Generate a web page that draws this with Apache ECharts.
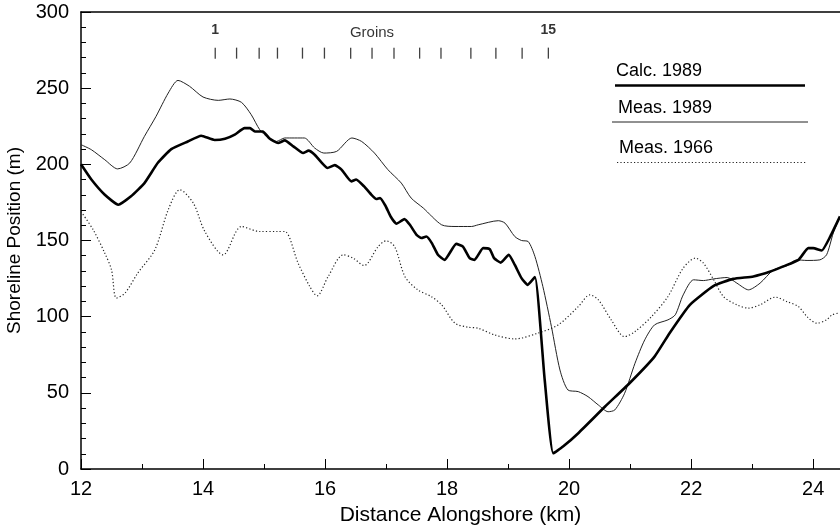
<!DOCTYPE html>
<html>
<head>
<meta charset="utf-8">
<script src="https://cdn.jsdelivr.net/npm/echarts@6/dist/echarts.min.js"></script>
<style>
html,body{margin:0;padding:0;background:#fff;}
#chart{width:840px;height:528px;}
</style>
</head>
<body>
<div id="chart"></div>
<script>
// ---- Data ----
var xTicks = [12, 14, 16, 18, 20, 22, 24];
var yTicks = [0, 50, 100, 150, 200, 250, 300];

var calc1989 = [[12.0,200],[12.17,190],[12.39,180],[12.61,173.5],[12.82,179],[13.04,187.7],[13.26,201],[13.48,210],[13.75,215],[13.97,218.8],[14.19,216],[14.36,216.8],[14.52,219.5],[14.68,223.8],[14.77,223.8],[14.85,221.6],[14.98,221.6],[15.09,217],[15.23,214],[15.34,215.7],[15.48,211.8],[15.64,207.4],[15.73,209],[15.83,206.3],[16.04,197.6],[16.16,199.5],[16.27,196.5],[16.43,188.8],[16.51,190],[16.64,185.5],[16.76,180],[16.84,177.2],[16.90,177.9],[16.99,172.8],[17.08,165.4],[17.17,161],[17.30,164],[17.39,160.3],[17.50,153.7],[17.58,151.6],[17.66,152.6],[17.75,148.3],[17.85,140.6],[17.96,137.3],[18.15,147.8],[18.26,146],[18.37,138.4],[18.45,137.3],[18.59,145],[18.70,144.3],[18.77,138.4],[18.88,135.5],[19.01,140.6],[19.11,134],[19.22,125.3],[19.32,120.9],[19.44,126],[19.60,58.5],[19.74,10.3],[19.90,14.7],[20.15,23.5],[20.59,41],[20.99,56.3],[21.40,73.8],[21.66,90],[21.98,107.8],[22.37,120.2],[22.69,124.8],[23.02,126.4],[23.30,129.6],[23.51,133],[23.76,137.3],[23.92,145],[24.0,145],[24.14,143.4],[24.28,152.6],[24.44,165.8]];

var meas1989 = [[12.0,212.9],[12.17,209.6],[12.39,203],[12.60,197],[12.80,200.9],[13.04,218.4],[13.23,231.5],[13.43,246.8],[13.59,255.1],[13.78,251.2],[14.0,244.2],[14.25,242],[14.44,242.9],[14.63,240.7],[14.79,232.6],[14.93,222.7],[15.07,217.3],[15.20,215],[15.34,217.3],[15.66,217.3],[15.83,210.7],[15.98,207.4],[16.19,208.5],[16.44,217.3],[16.60,215],[16.81,207.4],[17.03,196.5],[17.25,187.7],[17.41,177.9],[17.61,171.3],[17.91,160.3],[18.13,159.2],[18.40,159.2],[18.51,160.3],[18.84,163],[18.95,161.4],[19.11,152.6],[19.22,150],[19.33,149.3],[19.44,139.5],[19.57,119.8],[19.71,93.5],[19.85,65],[19.98,51.9],[20.15,50.8],[20.31,47.5],[20.48,42],[20.64,37.6],[20.75,38.8],[20.91,49.7],[21.08,69.4],[21.24,84.8],[21.40,94.6],[21.62,97.9],[21.74,101.2],[21.87,114.3],[22.04,124.2],[22.20,123.7],[22.37,124.8],[22.59,125.7],[22.75,122],[22.94,117.6],[23.13,122],[23.35,130.7],[23.57,133.4],[23.73,137.3],[23.90,136.9],[24.11,137.3],[24.22,140.6],[24.33,154.9],[24.44,165.8]];

var meas1966 = [[12.0,169],[12.20,157],[12.39,141.7],[12.50,130.7],[12.58,112.2],[12.72,115.4],[12.93,128.6],[13.21,143.9],[13.43,170.2],[13.62,183.3],[13.84,174.6],[14.03,155.9],[14.33,140.6],[14.63,159.2],[14.93,155.9],[15.23,155.9],[15.34,155.9],[15.56,135],[15.75,119.8],[15.87,113.7],[16.05,126.3],[16.30,140.6],[16.46,138.4],[16.64,133.6],[16.87,146],[17.00,149.8],[17.14,146],[17.31,126.3],[17.52,117.6],[17.74,113.2],[17.91,107.8],[18.13,95.7],[18.34,93.1],[18.51,92.4],[18.78,88],[19.11,85.4],[19.49,89.2],[19.82,94.6],[20.15,106.6],[20.34,114.3],[20.48,111],[20.69,97.9],[20.91,86.9],[21.08,90.2],[21.35,100],[21.62,113.2],[21.87,131.9],[22.07,138.4],[22.20,135.2],[22.37,124.2],[22.53,113.2],[22.75,107.8],[22.94,105.6],[23.13,107.8],[23.38,112.8],[23.57,109.9],[23.76,106.6],[23.90,100],[24.06,95.7],[24.22,97.9],[24.31,101.2],[24.41,102.3]];

var groinPositions = [14.20, 14.55, 14.92, 15.22, 15.63, 15.99, 16.42, 16.77, 17.13, 17.55, 17.90, 18.39, 18.80, 19.23, 19.66];
var groinY = 273;
var groinLabels = [[14.20, 288, '1'], [16.77, 286, 'Groins'], [19.66, 288, '15']];

var legendNames = ['Calc. 1989', 'Meas. 1989', 'Meas. 1966'];

// ---- Chart ----
var FONT = '"Liberation Sans", Arial, sans-serif';
var chart = echarts.init(document.getElementById('chart'), null, {renderer: 'canvas'});

var groinLabelData = groinLabels.map(function (g, i) {
  return {
    value: g,
    label: {
      show: true,
      position: 'inside',
      formatter: g[2],
      color: '#000',
      fontFamily: FONT,
      fontSize: i === 1 ? 15 : 14,
      fontWeight: i === 1 ? 'normal' : 'bold'
    }
  };
});

var option = {
  animation: false,
  backgroundColor: '#fff',
  grid: {left: 81, right: 0, top: 12, bottom: 59, containLabel: false, outerBoundsMode: 'none'},
  xAxis: [{
    type: 'value',
    min: 12, max: 24.44, interval: 2,
    name: 'Distance Alongshore (km)',
    nameLocation: 'middle', nameGap: 36,
    nameTextStyle: {fontFamily: FONT, fontSize: 21, color: '#000'},
    axisLine: {show: true, onZero: false, lineStyle: {color: '#000', width: 1.5}},
    axisTick: {show: true, inside: true, length: 10, lineStyle: {color: '#000', width: 1}},
    minorTick: {show: true, splitNumber: 2, length: 5, lineStyle: {color: '#000', width: 1}},
    axisLabel: {
      show: true, margin: 10, color: '#000', fontFamily: FONT, fontSize: 20,
      showMaxLabel: false,
      formatter: function (v) { return xTicks.indexOf(v) >= 0 ? String(v) : ''; }
    },
    splitLine: {show: false}
  }, {
    type: 'value', position: 'top',
    min: 12, max: 24.44,
    axisLine: {show: true, onZero: false, lineStyle: {color: '#000', width: 1.5}},
    axisTick: {show: false}, axisLabel: {show: false}, splitLine: {show: false}
  }],
  yAxis: {
    type: 'value',
    min: 0, max: 300, interval: 50,
    name: 'Shoreline Position (m)',
    nameLocation: 'middle', nameGap: 55, nameRotate: 90,
    nameTextStyle: {fontFamily: FONT, fontSize: 19, color: '#000'},
    axisLine: {show: true, onZero: false, lineStyle: {color: '#000', width: 1.5}},
    axisTick: {show: true, inside: true, length: 10, lineStyle: {color: '#000', width: 1}},
    minorTick: {show: true, splitNumber: 5, length: 5, lineStyle: {color: '#000', width: 1}},
    axisLabel: {
      margin: 12, color: '#000', fontFamily: FONT, fontSize: 20,
      formatter: function (v) { return yTicks.indexOf(v) >= 0 ? String(v) : ''; }
    },
    splitLine: {show: false}
  },
  series: [
    {
      name: legendNames[2], type: 'line', data: meas1966, showSymbol: false, smooth: 0.3,
      lineStyle: {color: '#222', width: 1.2, type: [1.2, 2.2]}, z: 2
    },
    {
      name: legendNames[1], type: 'line', data: meas1989, showSymbol: false, smooth: 0.25,
      lineStyle: {color: '#222', width: 1}, z: 3
    },
    {
      name: legendNames[0], type: 'line', data: calc1989, showSymbol: false, smooth: 0.15,
      lineStyle: {color: '#000', width: 2.6}, z: 4
    },
    {
      name: 'Groins', type: 'scatter',
      data: groinPositions.map(function (x) { return [x, groinY]; }),
      symbol: 'rect', symbolSize: [1.3, 11],
      itemStyle: {color: '#111'}, z: 5
    },
    {
      name: 'GroinLabels', type: 'scatter', data: groinLabelData,
      symbolSize: 0, itemStyle: {color: 'transparent'}, z: 5
    }
  ],
  graphic: [
    {type: 'text', left: 616, top: 62, style: {text: legendNames[0], font: '18px ' + FONT, fill: '#000'}},
    {type: 'line', shape: {x1: 615, y1: 85.5, x2: 805, y2: 85.5}, style: {stroke: '#000', lineWidth: 2.4}},
    {type: 'text', left: 618, top: 99, style: {text: legendNames[1], font: '18px ' + FONT, fill: '#000'}},
    {type: 'line', shape: {x1: 612, y1: 122, x2: 808, y2: 122}, style: {stroke: '#222', lineWidth: 1}},
    {type: 'text', left: 619, top: 139, style: {text: legendNames[2], font: '18px ' + FONT, fill: '#000'}},
    {type: 'line', shape: {x1: 617, y1: 162.5, x2: 806, y2: 162.5}, style: {stroke: '#222', lineWidth: 1.2, lineDash: [1.2, 2.2]}}
  ]
};
chart.setOption(option);
</script>
</body>
</html>
